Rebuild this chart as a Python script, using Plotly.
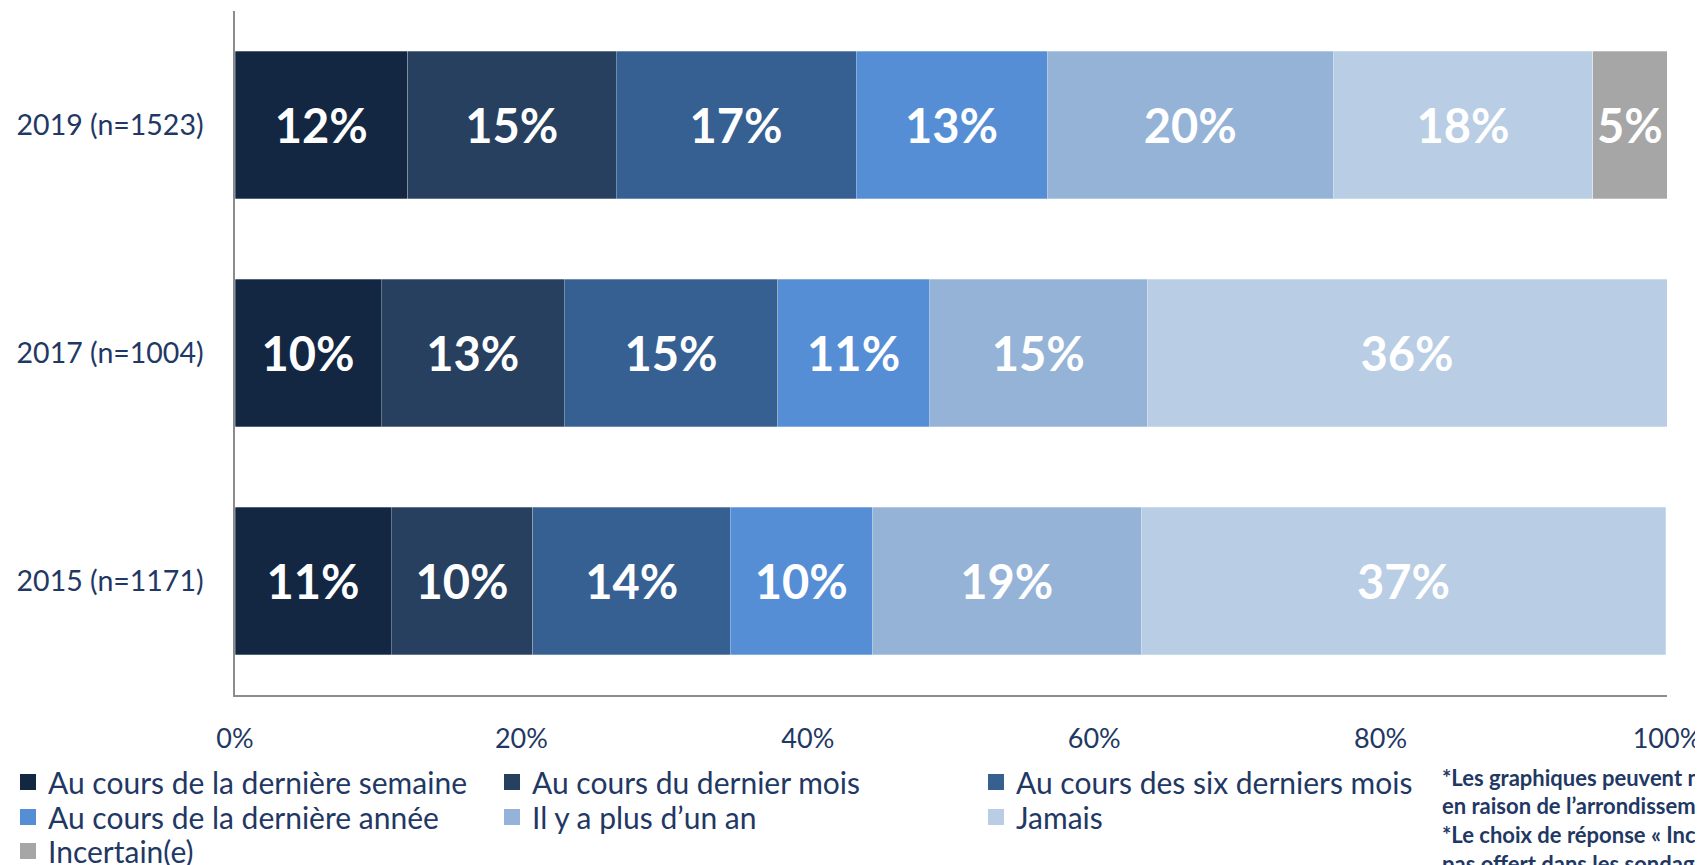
import plotly.graph_objects as go

# Catégories (de haut en bas)
annees = ["2019 (n=1523)", "2017 (n=1004)", "2015 (n=1171)"]

# Réponses, dans l'ordre d'empilement
reponses = [
    "Au cours de la dernière semaine",
    "Au cours du dernier mois",
    "Au cours des six derniers mois",
    "Au cours de la dernière année",
    "Il y a plus d’un an",
    "Jamais",
    "Incertain(e)",
]

# Valeurs (%) pour 2019, 2017, 2015
derniere_semaine = [12.05, 10.2, 10.9]
dernier_mois = [14.56, 12.8, 9.9]
six_derniers_mois = [16.76, 14.9, 13.8]
derniere_annee = [13.34, 10.6, 9.9]
plus_d_un_an = [20.0, 15.2, 18.8]
jamais = [18.1, 36.3, 36.6]
incertain = [5.2, None, None]

series = [derniere_semaine, dernier_mois, six_derniers_mois, derniere_annee,
          plus_d_un_an, jamais, incertain]
couleurs = ["#132743", "#27405F", "#366092", "#558ED5", "#95B3D7", "#B9CDE5", "#A6A6A6"]
# une légende par ligne, 3 entrées par ligne
legendes = ["legend", "legend", "legend", "legend2", "legend2", "legend2", "legend3"]

ticks_x = [0, 20, 40, 60, 80, 100]

POLICE = "Lato"
BLEU_TEXTE = "#1F3864"

fig = go.Figure()

for nom, valeurs, couleur in zip(reponses, series, couleurs):
    fig.add_trace(go.Bar(
        y=annees,
        x=valeurs,
        name=nom,
        orientation="h",
        marker=dict(color=couleur, line=dict(color="rgba(255,255,255,0.35)", width=0.8)),
        texttemplate="%{x:.0f}%",
        textposition="inside",
        insidetextanchor="middle",
        constraintext="none",
        textfont=dict(family=POLICE, size=47, color="white", weight="bold"),
        hoverinfo="skip",
        showlegend=False,
    ))

# entrées de légende : carrés plus gros que l'icône de barre par défaut
for nom, couleur, leg in zip(reponses, couleurs, legendes):
    fig.add_trace(go.Scatter(
        x=[None], y=[None],
        mode="markers",
        name=nom,
        marker=dict(symbol="square", size=16, color=couleur),
        legend=leg,
        hoverinfo="skip",
    ))

# --- Note de bas de page (coupée par le bord droit, comme l'original) ---
note = [
    "*Les graphiques peuvent ne pas totaliser 100 %",
    "en raison de l’arrondissement.",
    "*Le choix de réponse « Incertain(e) » n’était",
    "pas offert dans les sondages de 2015 et 2017.",
]
for i, ligne in enumerate(note):
    fig.add_annotation(
        text=ligne,
        xref="paper", yref="paper",
        x=(1440 - 235) / 1432, y=(695 - (777 + i * 28.7)) / 684,
        xanchor="left", yanchor="middle",
        showarrow=False,
        font=dict(family=POLICE, size=22, color=BLEU_TEXTE, weight="bold"),
    )


def legende_ligne(y_centre):
    return dict(
        orientation="h",
        x=(8 - 235) / 1432,
        xanchor="left",
        y=(695 - y_centre) / 684,
        yanchor="middle",
        entrywidth=439,
        entrywidthmode="pixels",
        traceorder="normal",
        font=dict(family=POLICE, size=30, color=BLEU_TEXTE),
        bgcolor="rgba(0,0,0,0)",
    )


# la page ajoute une marge de 8 px autour de la figure
fig.update_layout(
    width=1695,
    height=857,
    barmode="stack",
    bargap=0.352,
    margin=dict(l=227, r=36, t=3, b=170, autoexpand=False),
    plot_bgcolor="white",
    paper_bgcolor="white",
    font=dict(family=POLICE, size=27, color=BLEU_TEXTE),
    xaxis=dict(
        range=[0, 100],
        tickvals=ticks_x,
        ticktext=[f"{t}%" for t in ticks_x],
        showgrid=False,
        zeroline=False,
        showline=True,
        linecolor="#8C8C8C",
        linewidth=1.5,
        ticks="",
        ticklabelstandoff=19,
        tickfont=dict(family=POLICE, size=27, color=BLEU_TEXTE),
    ),
    yaxis=dict(
        autorange="reversed",
        showgrid=False,
        zeroline=False,
        showline=True,
        linecolor="#8C8C8C",
        linewidth=1.5,
        ticks="",
        ticklabelstandoff=24,
        tickfont=dict(family=POLICE, size=28.5, color=BLEU_TEXTE),
    ),
    legend=legende_ligne(782),
    legend2=legende_ligne(817),
    legend3=legende_ligne(851),
    showlegend=True,
)

fig.write_html("out.html")
